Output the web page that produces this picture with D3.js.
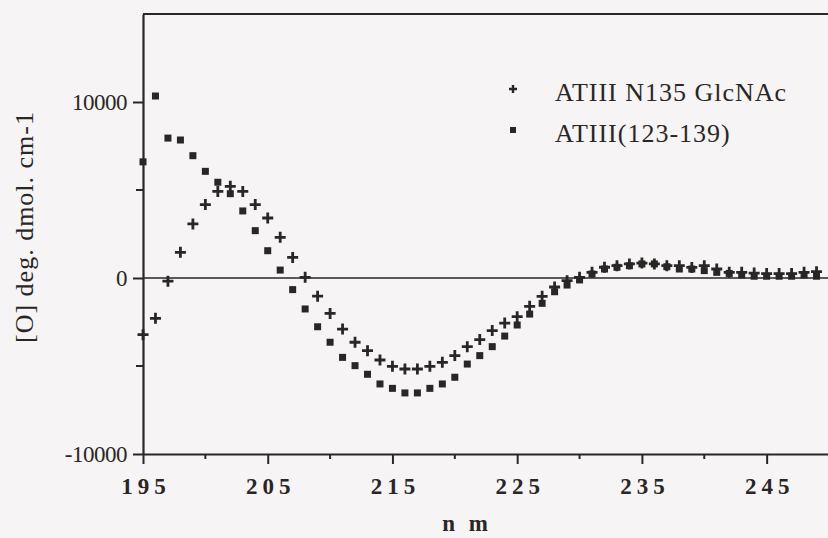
<!DOCTYPE html>
<html>
<head>
<meta charset="utf-8">
<script src="https://cdn.jsdelivr.net/npm/d3@7"></script>
<style>
  html, body { margin: 0; padding: 0; background: #f6f4f4; }
  svg { display: block; }
</style>
</head>
<body>
<div id="wrapper"></div>
<script>
const INK = "#2b2626";
const FONT = "'Liberation Serif', 'Times New Roman', Times, serif";

// wavelength (nm)
const wavelengths = [
  195, 196, 197, 198, 199, 200, 201, 202, 203, 204, 205, 206, 207, 208,
  209, 210, 211, 212, 213, 214, 215, 216, 217, 218, 219, 220, 221, 222,
  223, 224, 225, 226, 227, 228, 229, 230, 231, 232, 233, 234, 235, 236,
  237, 238, 239, 240, 241, 242, 243, 244, 245, 246, 247, 248, 249
];

// ATIII N135 GlcNAc (plus markers)
const glcnacValues = [
  -3220, -2290, -180, 1460, 3070, 4170, 4920, 5210, 4920, 4170, 3410, 2310, 1170, 40,
  -1030, -2010, -2900, -3650, -4130, -4660, -5020, -5170, -5170, -5020, -4790, -4410, -3900, -3500,
  -2990, -2560, -2200, -1610, -1040, -510, -150, 40, 320, 610, 700, 800, 850, 800,
  700, 700, 600, 700, 510, 320, 320, 280, 250, 250, 250, 320, 360
];

// ATIII(123-139) (square markers)
const peptideValues = [
  6600, 10340, 7950, 7840, 6950, 6060, 5440, 4790, 3810, 2690, 1550, 450, -660, -1760,
  -2770, -3650, -4510, -4980, -5470, -6020, -6270, -6530, -6530, -6270, -6020, -5640, -4890, -4410,
  -3900, -3300, -2670, -2050, -1440, -780, -400, -110, 230, 510, 610, 700, 800, 800,
  640, 510, 510, 420, 320, 260, 170, 100, 100, 100, 100, 170, 100
];

const seriesNames = ["ATIII N135 GlcNAc", "ATIII(123-139)"];
const xMajorTicks = [195, 205, 215, 225, 235, 245];
const xMinorTicks = [200, 210, 220, 230, 240];
const yMajorTicks = [-10000, 0, 10000];
const yMinorTicks = [-5000, 5000];
const xDomain = [195, 250];
const yDomain = [-10000, 15000];
const xTitle = "n m";
const yTitle = "[O] deg. dmol. cm-1";

const dimensions = {
  width: 828,
  height: 538,
  margin: { top: 14, right: -1, bottom: 84, left: 143 },
};
dimensions.boundedWidth = dimensions.width - dimensions.margin.left - dimensions.margin.right;
dimensions.boundedHeight = dimensions.height - dimensions.margin.top - dimensions.margin.bottom;

const svg = d3.select("#wrapper")
  .append("svg")
  .attr("width", dimensions.width)
  .attr("height", dimensions.height);

svg.append("rect")
  .attr("width", dimensions.width)
  .attr("height", dimensions.height)
  .attr("fill", "#f6f4f4");

const bounds = svg.append("g")
  .attr("transform", `translate(${dimensions.margin.left},${dimensions.margin.top})`);

const xScale = d3.scaleLinear()
  .domain(xDomain)
  .range([0, dimensions.boundedWidth]);

const yScale = d3.scaleLinear()
  .domain(yDomain)
  .range([dimensions.boundedHeight, 0]);

// frame: top and right border
bounds.append("path")
  .attr("d", `M0,0H${dimensions.boundedWidth}V${dimensions.boundedHeight}`)
  .attr("fill", "none")
  .attr("stroke", INK)
  .attr("stroke-width", 2);

// zero line
bounds.append("line")
  .attr("x1", 0)
  .attr("x2", dimensions.boundedWidth)
  .attr("y1", yScale(0))
  .attr("y2", yScale(0))
  .attr("stroke", INK)
  .attr("stroke-width", 1.6);

// x axis
const xAxis = bounds.append("g")
  .attr("transform", `translate(0,${dimensions.boundedHeight})`)
  .call(d3.axisBottom(xScale).tickValues(xMajorTicks).tickSize(10).tickSizeOuter(0).tickPadding(14)
    .tickFormat(d => String(d)));
xAxis.select(".domain").attr("stroke", INK).attr("stroke-width", 2.2);
xAxis.selectAll(".tick line").attr("stroke", INK).attr("stroke-width", 2);
xAxis.selectAll(".tick text")
  .attr("fill", INK)
  .style("font-family", FONT)
  .style("font-size", "23px")
  .style("font-weight", "bold")
  .style("letter-spacing", "5px")
  .attr("dx", "2.5px");

bounds.append("g")
  .selectAll("line")
  .data(xMinorTicks)
  .join("line")
  .attr("x1", d => xScale(d))
  .attr("x2", d => xScale(d))
  .attr("y1", dimensions.boundedHeight)
  .attr("y2", dimensions.boundedHeight + 5)
  .attr("stroke", INK)
  .attr("stroke-width", 2);

// y axis
const yAxis = bounds.append("g")
  .call(d3.axisLeft(yScale).tickValues(yMajorTicks).tickSize(10).tickSizeOuter(0).tickPadding(6)
    .tickFormat(d => String(d)));
yAxis.select(".domain").attr("stroke", INK).attr("stroke-width", 2.2);
yAxis.selectAll(".tick line").attr("stroke", INK).attr("stroke-width", 2);
yAxis.selectAll(".tick text")
  .attr("fill", INK)
  .style("font-family", FONT)
  .style("font-size", "23px")
  .style("letter-spacing", "-0.5px");

bounds.append("g")
  .selectAll("line")
  .data(yMinorTicks)
  .join("line")
  .attr("x1", -7)
  .attr("x2", 0)
  .attr("y1", d => yScale(d))
  .attr("y2", d => yScale(d))
  .attr("stroke", INK)
  .attr("stroke-width", 2);

// axis titles
svg.append("text")
  .attr("x", 467)
  .attr("y", 531)
  .attr("text-anchor", "middle")
  .attr("fill", INK)
  .style("font-family", FONT)
  .style("font-size", "23px")
  .style("font-weight", "bold")
  .style("letter-spacing", "4px")
  .text(xTitle);

svg.append("text")
  .attr("transform", "translate(33,227) rotate(-90)")
  .attr("text-anchor", "middle")
  .attr("fill", INK)
  .style("font-family", FONT)
  .style("font-size", "26px")
  .style("letter-spacing", "1px")
  .text(yTitle);

// data
const SQ = 7;
const PLUS = 5.5;

const squares = wavelengths.map((w, i) => ({ x: w, y: peptideValues[i] }));
const pluses = wavelengths.map((w, i) => ({ x: w, y: glcnacValues[i] }));

bounds.append("g")
  .selectAll("rect")
  .data(squares)
  .join("rect")
  .attr("x", d => xScale(d.x) - SQ / 2)
  .attr("y", d => yScale(d.y) - SQ / 2)
  .attr("width", SQ)
  .attr("height", SQ)
  .attr("fill", INK);

bounds.append("g")
  .selectAll("path")
  .data(pluses)
  .join("path")
  .attr("d", d => {
    const cx = xScale(d.x), cy = yScale(d.y);
    return `M${cx - PLUS},${cy}H${cx + PLUS}M${cx},${cy - PLUS}V${cy + PLUS}`;
  })
  .attr("stroke", INK)
  .attr("stroke-width", 2.8)
  .attr("fill", "none");

// legend
const legend = svg.append("g");
legend.append("path")
  .attr("d", "M509,89H517M513,85V93")
  .attr("stroke", INK)
  .attr("stroke-width", 2.4);
legend.append("rect")
  .attr("x", 510)
  .attr("y", 127)
  .attr("width", 6)
  .attr("height", 6)
  .attr("fill", INK);

legend.selectAll("text")
  .data(seriesNames)
  .join("text")
  .attr("x", 555)
  .attr("y", (d, i) => 101 + i * 41)
  .attr("fill", INK)
  .style("font-family", FONT)
  .style("font-size", "26px")
  .style("letter-spacing", "1px")
  .text(d => d);
</script>
</body>
</html>
